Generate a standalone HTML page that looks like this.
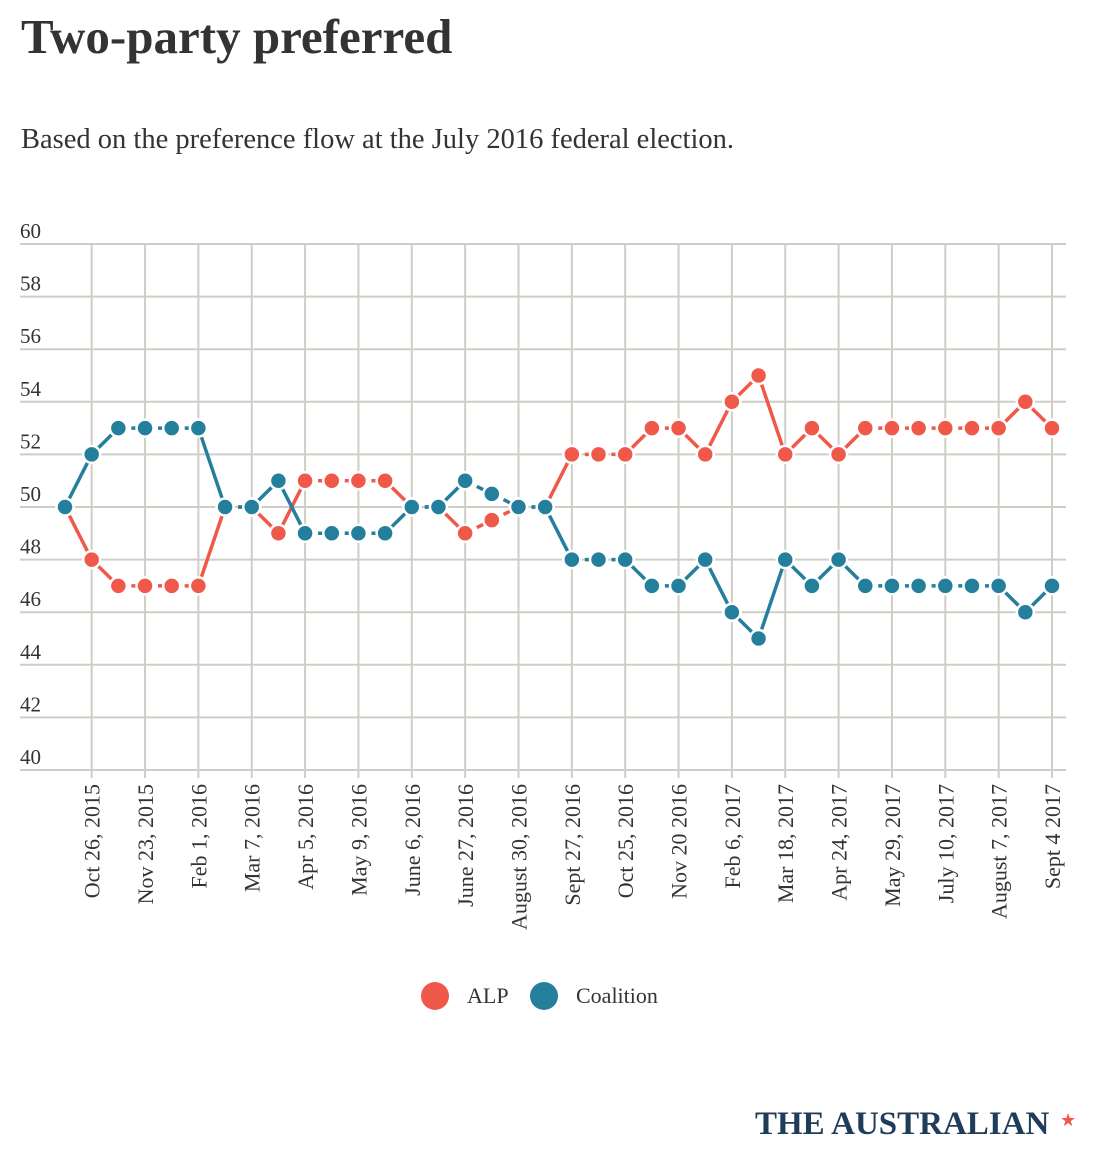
<!DOCTYPE html>
<html><head><meta charset="utf-8"><style>
body{margin:0;background:#fff;font-family:"Liberation Serif",serif;color:#333;}
h1{position:absolute;left:21px;top:8px;margin:0;font-size:49px;font-weight:bold;color:#333;}
.sub{position:absolute;left:21px;top:124px;font-size:28.5px;color:#333;}
</style></head><body>
<h1>Two-party preferred</h1>
<div class="sub">Based on the preference flow at the July 2016 federal election.</div>
<svg id="c" width="1094" height="1149" style="position:absolute;left:0;top:0"></svg>
<script>
const alp=[50,48,47,47,47,47,50,50,49,51,51,51,51,50,50,49,49.5,50,50,52,52,52,53,53,52,54,55,52,53,52,53,53,53,53,53,53,54,53];
const coalition=[50,52,53,53,53,53,50,50,51,49,49,49,49,50,50,51,50.5,50,50,48,48,48,47,47,48,46,45,48,47,48,47,47,47,47,47,47,46,47];
const dateLabels=["Oct 26, 2015","Nov 23, 2015","Feb 1, 2016","Mar 7, 2016","Apr 5, 2016","May 9, 2016","June 6, 2016","June 27, 2016","August 30, 2016","Sept 27, 2016","Oct 25, 2016","Nov 20 2016","Feb 6, 2017","Mar 18, 2017","Apr 24, 2017","May 29, 2017","July 10, 2017","August 7, 2017","Sept 4 2017"];
const yTicks=[40,42,44,46,48,50,52,54,56,58,60];
const NS="http://www.w3.org/2000/svg",svg=document.getElementById('c');
const X=i=>65+i*(1052-65)/(alp.length-1);
const Y=v=>770-(v-40)*(770-244)/20;
function mk(t,a,p){const e=document.createElementNS(NS,t);for(const k in a)e.setAttribute(k,a[k]);(p||svg).appendChild(e);return e;}
const g=mk('g',{});


yTicks.forEach(v=>{
  const l=mk('line',{x1:20,x2:1066,y1:Y(v),y2:Y(v),stroke:'#cfcdc6','stroke-width':2},g);
  
  
  const t=mk('text',{x:20,y:Y(v)-6,'font-size':21,fill:'#333','font-family':'Liberation Serif'});
  t.textContent=v;
  
  
});
dateLabels.forEach((d,j)=>{
  const x=X(1+2*j);
  const l=mk('line',{x1:x,x2:x,y1:244,y2:778,stroke:'#cfcdc6','stroke-width':2},g);
  
  
  const t=mk('text',{transform:`translate(${x+8},784) rotate(-90)`,'text-anchor':'end','font-size':22,fill:'#333','font-family':'Liberation Serif'});
  t.textContent=d;
  
  
});
function series(vals,col,name){
  const sg=mk('g',{});
  
  
  for(let i=0;i<vals.length-1;i++){
    const dash=Math.abs(vals[i+1]-vals[i])<=0.5;
    const l=mk('line',{x1:X(i),y1:Y(vals[i]),x2:X(i+1),y2:Y(vals[i+1]),stroke:col,'stroke-width':3.5,'stroke-dasharray':dash?'8,5':'none'},sg);
    
    
  }
  vals.forEach((v,i)=>{
    const c=mk('circle',{cx:X(i),cy:Y(v),r:8.5,fill:col,stroke:'#fff','stroke-width':2.5},sg);
    
    
  });
}
series(alp,'#f0584a','alp');
series(coalition,'#247f9d','coalition');
const lg=mk('g',{});


[[435,'#f0584a','ALP',467],[544,'#247f9d','Coalition',576]].forEach(([cx,col,txt,tx])=>{
  const c=mk('circle',{cx:cx,cy:996,r:14,fill:col},lg);
  
  
  const t=mk('text',{x:tx,y:1003,'font-size':22,fill:'#333','font-family':'Liberation Serif'},lg);
  t.textContent=txt;
  
  
});
const lo=mk('text',{x:755,y:1134,'font-size':33,'font-weight':'bold',fill:'#1f3d5a','font-family':'Liberation Serif','letter-spacing':'0'});
lo.textContent='THE AUSTRALIAN';


const st=mk('text',{x:1060,y:1126,'font-size':18,fill:'#f0584a'});
st.textContent='★';


</script>
</body></html>
